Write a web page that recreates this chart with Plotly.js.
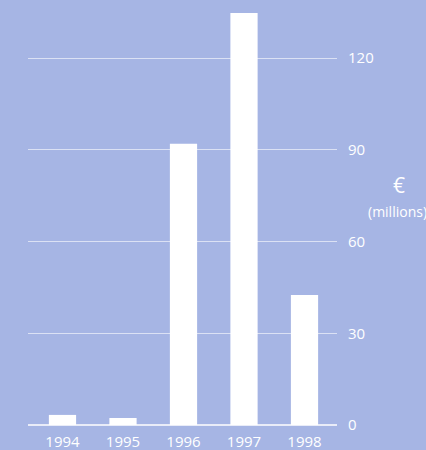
<!DOCTYPE html>
<html>
<head>
<meta charset="utf-8">
<script src="https://cdn.plot.ly/plotly-3.0.1.min.js"></script>
<style>html,body{margin:0;padding:0;background:#a5b4e4;}</style>
</head>
<body>
<div id="chart" style="width:426px;height:450px;"></div>
<script>
const years = ["1994", "1995", "1996", "1997", "1998"];
const values = [3.3, 2.3, 92, 134.8, 42.5];
const yTicks = [0, 30, 60, 90, 120];

const bg = "#a6b5e4";
const fontFam = "'Open Sans', 'DejaVu Sans', sans-serif";

Plotly.newPlot("chart", [{
  type: "bar",
  x: years,
  y: values,
  marker: {color: "#ffffff", line: {width: 0}},
  hoverinfo: "skip"
}], {
  width: 426,
  height: 450,
  paper_bgcolor: bg,
  plot_bgcolor: bg,
  margin: {l: 28, r: 89, t: 5, b: 25},
  bargap: 0.55,
  showlegend: false,
  xaxis: {
    type: "category",
    range: [-0.57, 4.537],
    showgrid: false,
    zeroline: false,
    showline: false,
    ticks: "",
    tickfont: {family: fontFam, size: 15, color: "#ffffff"},
    ticklabelstandoff: 6
  },
  yaxis: {
    side: "right",
    range: [0, 137.4],
    tickvals: yTicks,
    ticktext: yTicks.map(String),
    showgrid: true,
    gridcolor: "rgba(255,255,255,0.6)",
    gridwidth: 1,
    zeroline: true,
    zerolinecolor: "rgba(255,255,255,0.75)",
    zerolinewidth: 1.5,
    showline: false,
    ticks: "",
    ticklabelstandoff: 10,
    tickfont: {family: fontFam, size: 15, color: "#ffffff"}
  },
  annotations: [
    {text: "€", xref: "paper", yref: "paper", x: 1.2, y: 0.572, xanchor: "center", yanchor: "middle", showarrow: false, font: {family: fontFam, size: 21, color: "#ffffff"}},
    {text: "(millions)", xref: "paper", yref: "paper", x: 1.197, y: 0.508, xanchor: "center", yanchor: "middle", showarrow: false, font: {family: fontFam, size: 14, color: "#ffffff"}}
  ]
}, {displayModeBar: false, staticPlot: true});
</script>
</body>
</html>
